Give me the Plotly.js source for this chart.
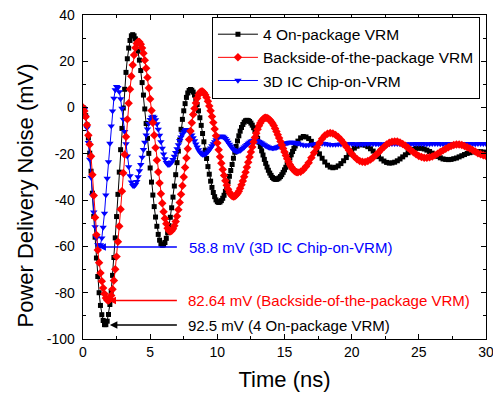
<!DOCTYPE html>
<html>
<head>
<meta charset="utf-8">
<script src="https://cdn.plot.ly/plotly-3.0.1.min.js"></script>
<style>html,body{margin:0;padding:0;background:#fff;}#chart{width:493px;height:397px;}</style>
</head>
<body>
<div id="chart"></div>
<script>
const timeNs = [
0,0.1,0.2,0.3,0.4,0.5,0.6,0.7,0.8,0.9,
1.0,1.1,1.2,1.3,1.4,1.5,1.6,1.7,1.8,1.9,
2.0,2.1,2.2,2.3,2.4,2.5,2.6,2.7,2.8,2.9,
3.0,3.1,3.2,3.3,3.4,3.5,3.6,3.7,3.8,3.9,
4.0,4.1,4.2,4.3,4.4,4.5,4.6,4.7,4.8,4.9,
5.0,5.1,5.2,5.3,5.4,5.5,5.6,5.7,5.8,5.9,
6.0,6.1,6.2,6.3,6.4,6.5,6.6,6.7,6.8,6.9,
7.0,7.1,7.2,7.3,7.4,7.5,7.6,7.7,7.8,7.9,
8.0,8.1,8.2,8.3,8.4,8.5,8.6,8.7,8.8,8.9,
9.0,9.1,9.2,9.3,9.4,9.5,9.6,9.7,9.8,9.9,
10.0,10.1,10.2,10.3,10.4,10.5,10.6,10.7,10.8,10.9,
11.0,11.1,11.2,11.3,11.4,11.5,11.6,11.7,11.8,11.9,
12.0,12.1,12.2,12.3,12.4,12.5,12.6,12.7,12.8,12.9,
13.0,13.1,13.2,13.3,13.4,13.5,13.6,13.7,13.8,13.9,
14.0,14.1,14.2,14.3,14.4,14.5,14.6,14.7,14.8,14.9,
15.0,15.1,15.2,15.3,15.4,15.5,15.6,15.7,15.8,15.9,
16.0,16.2,16.4,16.6,16.8,17.0,17.2,17.4,17.6,17.8,
18.0,18.2,18.4,18.6,18.8,19.0,19.2,19.4,19.6,19.8,
20.0,20.2,20.4,20.6,20.8,21.0,21.2,21.4,21.6,21.8,
22.0,22.2,22.4,22.6,22.8,23.0,23.2,23.4,23.6,23.8,
24.0,24.2,24.4,24.6,24.8,25.0,25.2,25.4,25.6,25.8,
26.0,26.2,26.4,26.6,26.8,27.0,27.2,27.4,27.6,27.8,
28.0,28.2,28.4,28.6,28.8,29.0,29.2,29.4,29.6,29.8,
30.0
];

const onPackage = [
0,-0.8,-3.5,-7.5,-13.1,-19.7,-27.5,-37,-47,-56,
-65,-73,-80,-85.5,-89.5,-92,-93.8,-93.8,-92.3,-89.4,
-85.1,-79.4,-72.5,-64.8,-56.3,-47.1,-37.5,-27.9,-18.2,-9.0,
-0.2,7.9,15.2,21.1,25.7,29.0,31.0,31.5,31.0,29.7,
27.5,24.4,20.5,16.0,10.8,5.4,-0.6,-6.9,-13.3,-19.8,
-26.1,-32.2,-37.8,-42.8,-47.3,-51.3,-54.8,-57.3,-58.9,-59.5,
-59.3,-58.3,-56.5,-54.1,-51.0,-47.4,-43.3,-38.7,-33.9,-29.0,
-23.8,-18.8,-14.0,-9.4,-5.1,-1.4,1.7,4.4,6.3,7.4,
7.8,7.5,6.7,5.4,3.6,1.3,-1.4,-4.4,-7.7,-11.2,
-14.8,-18.4,-22.0,-25.5,-28.8,-31.8,-34.5,-36.7,-38.5,-39.9,
-40.7,-41.0,-40.8,-40.2,-39.2,-37.9,-36.2,-34.3,-32.1,-29.7,
-27.2,-24.6,-21.9,-19.3,-16.8,-14.4,-12.2,-10.2,-8.6,-7.3,
-6.3,-5.7,-5.5,-5.6,-6.0,-6.7,-7.6,-8.7,-10.1,-11.7,
-13.3,-15.0,-16.8,-18.7,-20.5,-22.4,-24.1,-25.7,-27.1,-28.3,
-29.3,-30.2,-30.7,-31.0,-31.0,-30.8,-30.4,-29.8,-29.0,-28.0,
-26.9,-25.8,-24.5,-23.1,-21.8,-20.4,-19.0,-17.7,-16.6,-15.5,
-14.5,-13.1,-12.5,-12.7,-13.4,-14.6,-16.2,-18.0,-20.0,-21.9,
-23.5,-24.9,-25.7,-26.0,-25.8,-25.2,-24.2,-23.0,-21.6,-20.1,
-18.7,-17.5,-16.7,-16.1,-16.0,-16.3,-16.9,-17.8,-18.8,-20.0,
-21.2,-22.2,-23.1,-23.7,-24.0,-23.9,-23.6,-23.0,-22.2,-21.3,
-20.4,-19.5,-18.7,-18.1,-17.6,-17.5,-17.6,-17.9,-18.4,-19.0,
-19.7,-20.5,-21.1,-21.7,-22.2,-22.4,-22.5,-22.4,-22.1,-21.8,
-21.3,-20.8,-20.3,-19.8,-19.5,-19.2,-19.0,-19.0,-19.1,-19.2,
-19.4
];

const backside = [
0,-1.5,-4,-7.5,-12,-16,-21,-29,-38,-47.5,
-55,-61.5,-67,-71.5,-75,-78,-80.5,-82.3,-83.2,-83.4,
-82.8,-81.2,-78.5,-74.7,-69.9,-64.4,-58.0,-51.3,-43.9,-36.2,
-28.3,-20.3,-12.6,-5.1,1.9,7.9,13.5,18.4,22.7,25.8,
27.7,28.5,28.3,27.4,25.7,23.5,20.5,17.0,13.0,8.5,
3.7,-1.3,-6.6,-12.0,-17.4,-22.8,-27.8,-32.6,-37.2,-41.3,
-45.0,-47.9,-50.2,-52.1,-53.2,-53.5,-53.2,-52.4,-51.1,-49.2,
-47.0,-44.1,-41.0,-37.5,-33.8,-30.0,-25.9,-21.8,-17.8,-13.8,
-10.1,-6.6,-3.0,-0.4,2.0,4.0,5.5,6.5,7.0,6.9,
6.4,5.5,4.4,2.7,0.7,-1.4,-3.9,-6.5,-9.3,-12.2,
-15.3,-18.2,-21.3,-24.1,-26.8,-29.3,-31.6,-33.6,-35.3,-36.6,
-37.6,-38.2,-38.4,-38.3,-37.8,-37.1,-36.2,-34.9,-33.4,-31.7,
-29.9,-27.9,-25.8,-23.6,-21.4,-19.2,-17.0,-14.9,-12.9,-11.1,
-9.4,-7.9,-6.7,-5.7,-5.0,-4.5,-4.4,-4.5,-4.8,-5.3,
-6.0,-6.8,-7.8,-9.0,-10.3,-11.7,-13.2,-14.7,-16.2,-17.7,
-19.2,-20.7,-22.1,-23.4,-24.6,-25.6,-26.4,-27.1,-27.6,-27.9,
-28.0,-27.7,-26.9,-25.5,-23.8,-21.7,-19.5,-17.3,-15.3,-13.5,
-12.1,-11.3,-11.0,-11.2,-11.8,-12.7,-13.9,-15.3,-16.9,-18.4,
-19.9,-21.2,-22.3,-23.1,-23.4,-23.5,-23.1,-22.5,-21.6,-20.5,
-19.4,-18.1,-17.0,-16.0,-15.2,-14.8,-14.6,-14.7,-15.1,-15.7,
-16.5,-17.4,-18.4,-19.3,-20.2,-20.9,-21.4,-21.7,-21.7,-21.5,
-21.1,-20.6,-19.9,-19.2,-18.5,-17.8,-17.1,-16.6,-16.2,-16.0,
-16.0,-16.2,-16.6,-17.1,-17.7,-18.3,-19.0,-19.7,-20.2,-20.6,
-20.9
];

const chipOnVrm = [
0,-1.0,-4.0,-8.8,-15.1,-22.4,-30.2,-37.9,-45.2,-51.5,
-56.3,-59.3,-60.3,-59.3,-56.4,-51.8,-45.7,-37.8,-30.6,-23.5,
-15.5,-8.0,-1.5,4.0,7.6,9.0,8.6,6.8,3.8,-0.4,
-5.1,-10.4,-15.7,-21.0,-25.6,-29.5,-32.2,-33.7,-33.9,-33.3,
-32.0,-30.0,-27.4,-24.7,-21.5,-18.2,-15.0,-11.9,-9.3,-6.9,
-5.2,-4.2,-3.8,-4.2,-5.3,-7.1,-9.4,-12.0,-14.8,-17.6,
-20.1,-22.2,-23.8,-24.6,-24.7,-24.3,-23.6,-22.5,-21.1,-19.5,
-17.8,-16.1,-14.3,-12.8,-11.5,-10.5,-9.8,-9.5,-9.6,-10.1,
-10.8,-11.9,-13.1,-14.4,-15.8,-17.1,-18.3,-19.2,-19.9,-20.3,
-20.3,-20.1,-19.7,-19.1,-18.3,-17.5,-16.6,-15.7,-14.8,-14.0,
-13.3,-12.8,-12.5,-12.4,-12.5,-12.9,-13.4,-14.2,-15.0,-15.9,
-16.7,-17.5,-18.2,-18.6,-18.9,-18.9,-18.75,-18.5,-18.1,-17.6,
-17.1,-16.55,-16.0,-15.5,-15.0,-14.6,-14.4,-14.2,-14.2,-14.3,
-14.5,-14.7,-15.0,-15.4,-15.8,-16.1,-16.5,-16.8,-17.1,-17.3,
-17.4,-17.5,-17.5,-17.4,-17.2,-17.0,-16.8,-16.5,-16.2,-16.0,
-15.7,-15.5,-15.3,-15.1,-15.0,-15.0,-15.0,-15.1,-15.2,-15.3,
-15.5,-15.9,-16.2,-16.3,-16.2,-16.0,-15.8,-15.6,-15.5,-15.5,
-15.6,-15.8,-16.0,-16.0,-16.0,-15.9,-15.8,-15.7,-15.6,-15.6,
-15.6,-15.7,-15.8,-15.8,-15.8,-15.7,-15.6,-15.6,-15.6,-15.7,
-15.7,-15.8,-15.8,-15.7,-15.7,-15.6,-15.6,-15.6,-15.7,-15.7,
-15.8,-15.8,-15.7,-15.7,-15.6,-15.6,-15.6,-15.7,-15.7,-15.7,
-15.6,-15.6,-15.6,-15.7,-15.7,-15.7,-15.6,-15.6,-15.6,-15.7,
-15.7,-15.7,-15.6,-15.6,-15.6,-15.7,-15.7,-15.6,-15.6,-15.6,
-15.6
];

const seriesNames = ["4 On-package VRM", "Backside-of-the-package VRM", "3D IC Chip-on-VRM"];
const peakLabels = ["92.5 mV (4 On-package VRM)", "82.64 mV (Backside-of-the-package VRM)", "58.8 mV (3D IC Chip-on-VRM)"];
const xTickVals = [0, 5, 10, 15, 20, 25, 30];
const xTickText = ["0", "5", "10", "15", "20", "25", "30"];
const yTickVals = [40, 20, 0, -20, -40, -60, -80, -100];
const yTickText = ["40", "20", "0", "-20", "-40", "-60", "-80", "-100"];

const FONT = "Liberation Sans, Arial, Helvetica, sans-serif";

const traces = [
  {x: timeNs, y: onPackage, name: seriesNames[0], type: "scatter", mode: "lines+markers",
   line: {color: "#000000", width: 1}, marker: {symbol: "square", size: 5, color: "#000000"}, legendrank: 1},
  {x: timeNs, y: chipOnVrm, name: seriesNames[2], type: "scatter", mode: "lines+markers",
   line: {color: "#0000FF", width: 1}, marker: {symbol: "triangle-down", size: 6.5, color: "#0000FF"}, legendrank: 3},
  {x: timeNs, y: backside, name: seriesNames[1], type: "scatter", mode: "lines+markers",
   line: {color: "#FF0000", width: 1}, marker: {symbol: "diamond", size: 6.5, color: "#FF0000"}, legendrank: 2}
];

function arrow(xh, yh, xt, color) {
  return {x: xh, y: yh, ax: xt, ay: yh, xref: "x", yref: "y", axref: "x", ayref: "y",
    text: "", showarrow: true, arrowhead: 2, arrowsize: 1, arrowwidth: 1.5, arrowcolor: color, standoff: 0};
}
function label(x, y, txt, color) {
  return {x: x, y: y, xref: "x", yref: "y", text: txt, showarrow: false, xanchor: "left", yanchor: "middle",
    font: {family: FONT, size: 15, color: color}};
}

const axisCommon = {
  showline: true, linecolor: "#000", linewidth: 1.3, mirror: "ticks",
  ticks: "inside", ticklen: 5, tickwidth: 1, tickcolor: "#000",
  showgrid: false, zeroline: false, tickfont: {family: FONT, size: 14, color: "#000"},
  ticklabeloverflow: "allow"
};

const layout = {
  width: 493, height: 397,
  margin: {l: 83, r: 7, t: 15, b: 58},
  paper_bgcolor: "#fff", plot_bgcolor: "#fff",
  font: {family: FONT, color: "#000"},
  showlegend: true,
  legend: {x: 0.985, y: 0.995, xanchor: "right", yanchor: "top", bgcolor: "#fff",
    bordercolor: "#000", borderwidth: 1, font: {family: FONT, size: 15.5, color: "#000"},
    tracegroupgap: 0, itemwidth: 40},
  xaxis: Object.assign({}, axisCommon, {
    range: [0, 30], tickmode: "array", tickvals: xTickVals, ticktext: xTickText,
    minor: {ticks: "inside", dtick: 2.5, ticklen: 3, tickcolor: "#000"},
    title: {text: "Time (ns)", font: {family: FONT, size: 22, color: "#000"}, standoff: 12}
  }),
  yaxis: Object.assign({}, axisCommon, {
    range: [-100, 40], tickmode: "array", tickvals: yTickVals, ticktext: yTickText,
    minor: {ticks: "inside", dtick: 10, ticklen: 3, tickcolor: "#000"},
    ticklabelstandoff: 4
  }),
  annotations: [
    arrow(2.0, -94, 7.1, "#000000"),
    arrow(1.9, -83.4, 7.1, "#FF0000"),
    arrow(1.15, -60.3, 7.1, "#0000FF"),
    label(7.65, -94, peakLabels[0], "#000000"),
    label(7.65, -83.4, peakLabels[1], "#FF0000"),
    label(7.75, -60.3, peakLabels[2], "#0000FF"),
    {xref: "paper", yref: "paper", x: -0.143, y: 0.444, text: "Power Delivery Noise (mV)", textangle: -90,
     showarrow: false, xanchor: "center", yanchor: "middle", font: {family: FONT, size: 22, color: "#000"}}
  ]
};

Plotly.newPlot("chart", traces, layout, {displayModeBar: false, staticPlot: true});
</script>
</body>
</html>
